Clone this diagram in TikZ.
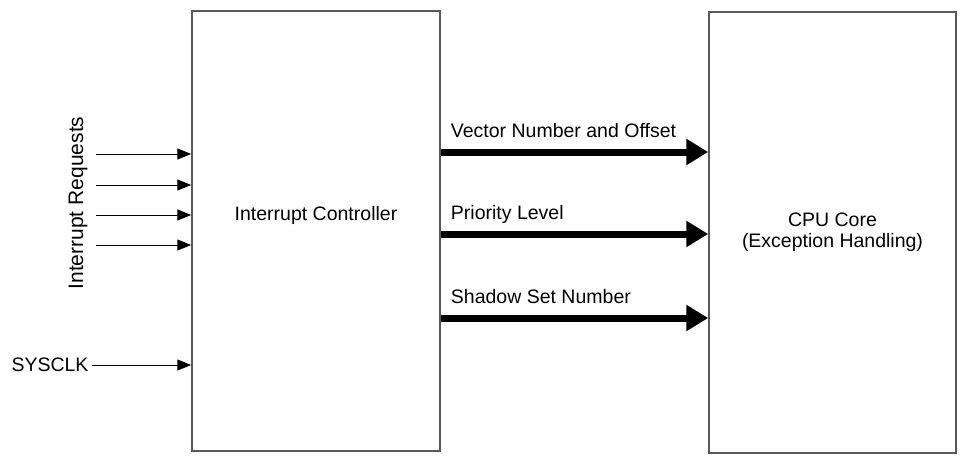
\documentclass[tikz,border=0pt]{standalone}
\usepackage{fontspec}
\setmainfont{Liberation Sans}
\usepackage{tikz}
\usetikzlibrary{arrows.meta, positioning}

\begin{document}
\begin{tikzpicture}[x=1pt, y=-1pt, font=\fontsize{19.5}{21}\selectfont,
  block/.style={draw=black!65, line width=1.5pt, inner sep=0pt, align=center},
  sigline/.style={line width=1pt, -{Triangle[length=14pt, width=11pt]}},
  bus/.style={line width=7pt, -{Triangle[length=22pt, width=25pt]}}]
\useasboundingbox (0,0) rectangle (962,460);
\node[block, minimum width=248pt, minimum height=440pt] (ctrl) at (316,231) {};
\node (ctrllbl) at (316,215) {Interrupt Controller};
\node[block, minimum width=247pt, minimum height=441pt] (cpu) at (832.5,232.5) {CPU Core\\(Exception Handling)};
% interrupt request lines
\foreach \y [count=\i] in {154,185,215,245} {
  \coordinate (irq\i) at (96,\y);
  \draw[sigline] (irq\i) -- (irq\i -| ctrl.west);
}
\node[rotate=90, font=\fontsize{21}{23}\selectfont] (irqlbl) at (78,203) {Interrupt Requests};
\node[anchor=east] (clk) at (92,365) {SYSCLK};
\draw[sigline] (clk.east) -- (clk.east -| ctrl.west);
% buses to the core
\foreach \y/\txt [count=\i] in {152/Vector Number and Offset, 234/Priority Level, 318/Shadow Set Number} {
  \coordinate (bus\i) at (ctrl.east |- 0,\y);
  \draw[bus] (bus\i) -- (bus\i -| cpu.west);
  \node[anchor=base west, inner sep=0pt] (buslbl\i) at ([shift={(10,-15)}]bus\i) {\txt};
}
\end{tikzpicture}
\end{document}
